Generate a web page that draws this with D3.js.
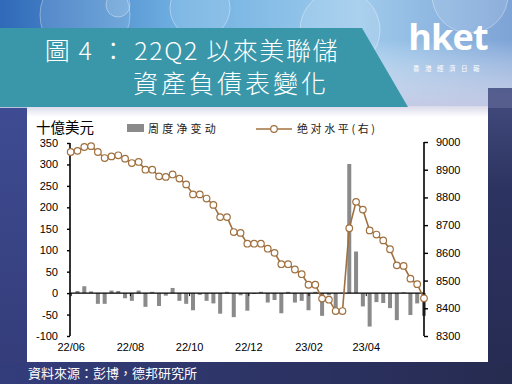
<!DOCTYPE html>
<html><head><meta charset="utf-8">
<script src="https://cdn.jsdelivr.net/npm/d3@7"></script>
<style>html,body{margin:0;padding:0;background:#2d3565;}svg{display:block;}</style>
</head><body>
<svg id="c" width="512" height="384"></svg>
<script>
// ---- data ----
const startDate = "2022-06-01";
const endDate = "2023-05-31";
const nWeeks = 53;
const weeks = d3.range(nWeeks).map(i => d3.utcDay.offset(new Date(startDate + "T00:00:00Z"), 7 * i));
const levelValues = [8964, 8968, 8982, 8985, 8964, 8942, 8948, 8952, 8940, 8924,
  8928, 8900, 8900, 8876, 8874, 8883, 8868, 8847, 8811, 8811,
  8796, 8773, 8729, 8729, 8675, 8672, 8633, 8633, 8633, 8615,
  8600, 8559, 8559, 8540, 8523, 8485, 8485, 8435, 8431, 8390,
  8390, 8689, 8784, 8756, 8681, 8666, 8645, 8613, 8555, 8553,
  8507, 8487, 8436];
const weeklyChange = [null, 5, 16, 4, -25, -25, 6, 5, -12, -18,
  6, -32, 3, -30, -6, 12, -18, -25, -40, -4,
  -18, -24, -48, 3, -56, -5, -41, -2, 3, -22,
  -16, -47, 3, -22, -18, -40, 3, -53, -5, -38,
  1, 301, 97, -31, -78, -21, -23, -35, -63, 2,
  -51, -24, -53];
const leftTicks = [-100, -50, 0, 50, 100, 150, 200, 250, 300, 350];
const rightTicks = [8300, 8400, 8500, 8600, 8700, 8800, 8900, 9000];
const xTickDates = ["2022-06-01", "2022-08-01", "2022-10-01", "2022-12-01", "2023-02-01", "2023-04-01"];
const titleLines = ["圖 4 ： 22Q2 以來美聯儲", "資產負債表變化"];
const unitLabel = "十億美元";
const legendBar = "周度净变动";
const legendLine = "绝对水平(右)";
const sourceText = "資料來源：彭博，德邦研究所";

// ---- drawing ----
const svg = d3.select("#c");
const defs = svg.append("defs");
const sky = defs.append("linearGradient").attr("id", "sky").attr("x1", 0).attr("x2", 1).attr("y1", 0).attr("y2", 0);
sky.append("stop").attr("offset", 0).attr("stop-color", "#2f69b8");
sky.append("stop").attr("offset", 0.35).attr("stop-color", "#6fb0e2");
sky.append("stop").attr("offset", 0.7).attr("stop-color", "#9fcbec");
sky.append("stop").attr("offset", 1).attr("stop-color", "#7ea3d6");
const fade = defs.append("linearGradient").attr("id", "fade").attr("x1", 0).attr("x2", 0).attr("y1", 0).attr("y2", 1);
fade.append("stop").attr("offset", 0).attr("stop-color", "#ffffff").attr("stop-opacity", 0);
fade.append("stop").attr("offset", 1).attr("stop-color", "#c9cbe4").attr("stop-opacity", 0.9);
const leftStrip = defs.append("linearGradient").attr("id", "ls").attr("x1", 0).attr("x2", 0).attr("y1", 0).attr("y2", 1);
leftStrip.append("stop").attr("offset", 0).attr("stop-color", "#3e4c93");
leftStrip.append("stop").attr("offset", 1).attr("stop-color", "#343c78");
const rightStrip = defs.append("linearGradient").attr("id", "rs").attr("x1", 0).attr("x2", 0).attr("y1", 0).attr("y2", 1);
rightStrip.append("stop").attr("offset", 0).attr("stop-color", "#4a5488");
rightStrip.append("stop").attr("offset", 0.4).attr("stop-color", "#2c3360");
rightStrip.append("stop").attr("offset", 1).attr("stop-color", "#262b52");
const botBand = defs.append("linearGradient").attr("id", "bb").attr("x1", 0).attr("x2", 1).attr("y1", 0).attr("y2", 0);
botBand.append("stop").attr("offset", 0).attr("stop-color", "#343d7c");
botBand.append("stop").attr("offset", 1).attr("stop-color", "#262b50");
const panelTop = defs.append("linearGradient").attr("id", "pt").attr("x1", 0).attr("x2", 0).attr("y1", 0).attr("y2", 1);
panelTop.append("stop").attr("offset", 0).attr("stop-color", "#d9d9ea");
panelTop.append("stop").attr("offset", 1).attr("stop-color", "#ffffff");

svg.append("rect").attr("width", 512).attr("height", 384).attr("fill", "#2b3262");
svg.append("rect").attr("x", 0).attr("y", 100).attr("width", 28).attr("height", 284).attr("fill", "url(#ls)");
svg.append("rect").attr("x", 488).attr("y", 60).attr("width", 24).attr("height", 324).attr("fill", "url(#rs)");
svg.append("rect").attr("x", 0).attr("y", 362).attr("width", 512).attr("height", 22).attr("fill", "url(#bb)");
svg.append("rect").attr("x", 0).attr("y", 0).attr("width", 512).attr("height", 108).attr("fill", "url(#sky)");
svg.append("rect").attr("x", 0).attr("y", 40).attr("width", 512).attr("height", 68).attr("fill", "url(#fade)");
// bubbles
[[85, 15, 45], [200, 8, 30], [340, 30, 40], [470, -5, 38], [118, 5, 12], [260, 60, 25]].forEach(b => {
  svg.append("circle").attr("cx", b[0]).attr("cy", b[1]).attr("r", b[2])
    .attr("fill", "#ffffff").attr("fill-opacity", 0.12).attr("stroke", "#ffffff").attr("stroke-opacity", 0.35);
});
svg.append("rect").attr("x", 488).attr("y", 88).attr("width", 24).attr("height", 20).attr("fill", "#3b4478").attr("opacity", 0.8);

// white panel
svg.append("rect").attr("x", 27).attr("y", 106).attr("width", 461).attr("height", 256).attr("fill", "#ffffff");
svg.append("rect").attr("x", 27).attr("y", 106).attr("width", 461).attr("height", 11).attr("fill", "url(#pt)");

// banner
svg.append("path").attr("d", "M0,28 L362,28 L408,107 L0,107 Z").attr("fill", "#3a97a9");
const tg = svg.append("g").attr("fill", "#ffffff").attr("font-family", "'Noto Sans CJK TC','Noto Sans CJK SC',sans-serif")
  .attr("font-weight", 300);
tg.append("text").attr("x", 192).attr("y", 60).attr("text-anchor", "middle").attr("font-size", 25)
  .attr("letter-spacing", 1.6).text(titleLines[0]);
tg.append("text").attr("x", 231).attr("y", 93).attr("text-anchor", "middle").attr("font-size", 25)
  .attr("letter-spacing", 3).text(titleLines[1]);

// logo
svg.append("text").attr("x", 448).attr("y", 50).attr("text-anchor", "middle").attr("fill", "#ffffff")
  .attr("font-family", "'Open Sans','DejaVu Sans',sans-serif").attr("font-weight", 700).attr("font-size", 36)
  .attr("letter-spacing", -0.8).text("hket");
svg.append("text").attr("x", 449).attr("y", 71).attr("text-anchor", "middle").attr("fill", "#ffffff")
  .attr("font-family", "'Noto Sans CJK TC',sans-serif").attr("font-size", 6.5).attr("letter-spacing", 5.5)
  .text("香港經濟日報");

// scales
const x = d3.scaleUtc().domain([new Date(startDate + "T00:00:00Z"), new Date(endDate + "T00:00:00Z")]).range([70.7, 424]);
const yL = d3.scaleLinear().domain([-100, 350]).range([336, 143]);
const yR = d3.scaleLinear().domain([8300, 9000]).range([336, 142]);

// bars
const barData = weeks.map((d, i) => ({d, v: weeklyChange[i]})).filter(e => e.v !== null);
svg.append("g").selectAll("rect").data(barData).join("rect")
  .attr("x", e => x(e.d) - 2).attr("width", 4)
  .attr("y", e => yL(Math.max(0, e.v))).attr("height", e => Math.abs(yL(e.v) - yL(0)))
  .attr("fill", "#8a8a8a");

// axes
const axisFont = "'Liberation Sans',Arial,sans-serif";
const plain = d => String(d);
const gL = svg.append("g").attr("transform", "translate(70,0)")
  .call(d3.axisLeft(yL).tickValues(leftTicks).tickFormat(plain).tickSize(3).tickPadding(9));
const gR = svg.append("g").attr("transform", "translate(424,0)")
  .call(d3.axisRight(yR).tickValues(rightTicks).tickFormat(plain).tickSize(4).tickPadding(8));
[gL, gR].forEach(g => {
  g.select(".domain").attr("stroke", "#000").attr("stroke-width", 1.6);
  g.selectAll(".tick line").attr("stroke", "#000").attr("stroke-width", 1.4);
  g.selectAll(".tick text").attr("font-family", axisFont).attr("font-size", 11).attr("fill", "#000");
});
gL.select(".domain").attr("d", "M0," + yL(-100) + "V" + yL(350));
gR.select(".domain").attr("d", "M0," + yR(8300) + "V" + yR(9000));

const gX = svg.append("g").attr("transform", "translate(0," + yL(0) + ")")
  .call(d3.axisBottom(x).tickValues(xTickDates.map(s => new Date(s + "T00:00:00Z")))
    .tickFormat(d3.utcFormat("%y/%m")).tickSize(3).tickPadding(47));
gX.select(".domain").attr("d", "M70,0H424").attr("stroke", "#000").attr("stroke-width", 1.4);
gX.selectAll(".tick line").attr("stroke", "#000");
gX.selectAll(".tick text").attr("font-family", axisFont).attr("font-size", 11).attr("fill", "#000");

// line
const lineData = weeks.map((d, i) => ({d, v: levelValues[i]}));
const brown = "#a0703f";
svg.append("path").datum(lineData)
  .attr("d", d3.line().x(e => x(e.d)).y(e => yR(e.v)))
  .attr("fill", "none").attr("stroke", brown).attr("stroke-width", 1.6);
svg.append("g").selectAll("circle").data(lineData).join("circle")
  .attr("cx", e => x(e.d)).attr("cy", e => yR(e.v)).attr("r", 3.3)
  .attr("fill", "#fff").attr("stroke", brown).attr("stroke-width", 1.2);

// labels & legend
svg.append("text").attr("x", 36).attr("y", 133).attr("font-family", "'Noto Sans CJK TC',sans-serif")
  .attr("font-size", 14.5).attr("fill", "#000").text(unitLabel);
svg.append("rect").attr("x", 127).attr("y", 124).attr("width", 17).attr("height", 8).attr("fill", "#8a8a8a");
svg.append("text").attr("x", 148).attr("y", 133).attr("font-family", "'Noto Sans CJK SC',sans-serif")
  .attr("font-size", 11).attr("letter-spacing", 3.2).attr("fill", "#222").text(legendBar);
svg.append("line").attr("x1", 256).attr("x2", 292).attr("y1", 129).attr("y2", 129).attr("stroke", brown).attr("stroke-width", 1.6);
svg.append("circle").attr("cx", 274).attr("cy", 129).attr("r", 3.3).attr("fill", "#fff").attr("stroke", brown).attr("stroke-width", 1.2);
svg.append("text").attr("x", 297).attr("y", 133).attr("font-family", "'Noto Sans CJK SC',sans-serif")
  .attr("font-size", 11).attr("letter-spacing", 2.6).attr("fill", "#222").text(legendLine);

// source
svg.append("text").attr("x", 28).attr("y", 378).attr("font-family", "'Noto Sans CJK TC',sans-serif")
  .attr("font-size", 13).attr("fill", "#ffffff").text(sourceText);
</script>
</body></html>
